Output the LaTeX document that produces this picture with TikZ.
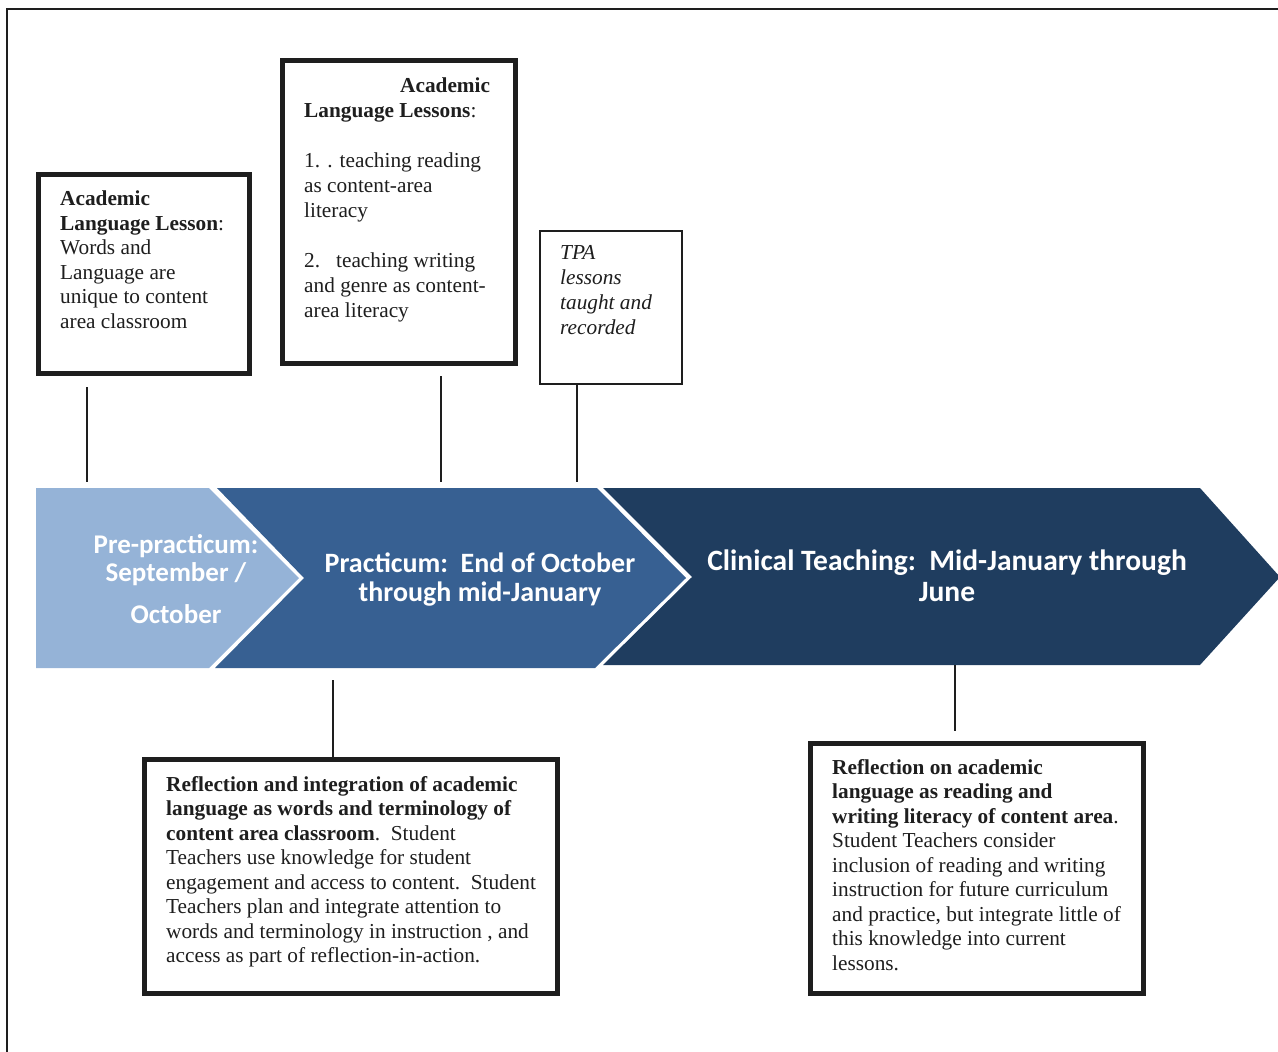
\documentclass[tikz,border=0pt]{standalone}
\usepackage{fontspec}
\setmainfont{Liberation Serif}
\newfontfamily\chevfont{Carlito}
\definecolor{lightblue}{HTML}{95B3D7}
\definecolor{midblue}{HTML}{376092}
\definecolor{darkblue}{HTML}{1F3D5F}
\definecolor{inkgray}{HTML}{1E1E1E}
\begin{document}
\begin{tikzpicture}[x=1pt,y=-1pt,
  bigbox/.style={draw=inkgray, line width=5pt, fill=white, inner sep=0pt},
  thinbox/.style={draw=inkgray, line width=2pt, fill=white, inner sep=0pt},
  boxtext/.style={anchor=base west, inner sep=0pt, align=left, text=inkgray,
    font=\fontsize{21.3}{24.6}\selectfont},
  chevtext/.style={anchor=base, inner sep=0pt, align=center, text=white,
    font=\chevfont\bfseries\fontsize{28}{28.5}\selectfont},
  link/.style={draw=inkgray, line width=2pt}]
\useasboundingbox (0,0) rectangle (1278,1052);
\begin{scope}
\clip (0,0) rectangle (1278,1052);
% outer frame
\draw[line width=2pt, draw=inkgray] (7,1060) -- (7,9) -- (1290,9);
% chevrons
\fill[darkblue] (603,488) -- (1200,488) -- (1280,577) -- (1200,665) -- (603,665) -- (692,577) -- cycle;
\fill[midblue] (217,488) -- (597,488) -- (686,578) -- (595,668) -- (215,668) -- (304,578) -- cycle;
\fill[lightblue] (36,488) -- (209,488) -- (299,578) -- (209,668) -- (36,668) -- cycle;
\end{scope}
% chevron labels (anchor = baseline of last line)
\node[chevtext, font=\chevfont\bfseries\fontsize{27}{28.5}\selectfont] (pre) at (176,623) {Pre-practicum:\\ September /\\[13pt] October};
\node[chevtext] (prac) at (480,601) {Practicum:\ \ End of October\\ through mid-January};
\node[chevtext, font=\chevfont\bfseries\fontsize{29.5}{28.5}\selectfont] (clin) at (947,601.5) {Clinical Teaching:\ \ Mid-January through\\[3pt] June};
% boxes
\node[bigbox, minimum width=211pt, minimum height=199pt] (b1) at (144,274) {};
\node[bigbox, minimum width=233pt, minimum height=303pt] (b2) at (399,212) {};
\node[thinbox, minimum width=142pt, minimum height=153pt] (tpa) at (611,307.5) {};
\node[bigbox, minimum width=413pt, minimum height=234pt] (b4) at (351,876.5) {};
\node[bigbox, minimum width=333pt, minimum height=250pt] (b5) at (977,868.5) {};
% box texts (anchor = baseline of last line)
\node[boxtext] (t1) at (60,328.5) {\textbf{Academic}\\ \textbf{Language Lesson}:\\ Words and\\ Language are\\ unique to content\\ area classroom};
\node[boxtext, font=\fontsize{21.3}{25}\selectfont] (t2) at (304,317) {\hspace*{96pt}\textbf{Academic}\\ \textbf{Language Lessons}:\\[25pt] 1. . teaching reading\\ as content-area\\ literacy\\[25pt] 2.\ \ \ teaching writing\\ and genre as content-\\ area literacy};
\node[boxtext, font=\fontsize{21.3}{24.7}\selectfont\itshape] (t3) at (560,334) {TPA\\ lessons\\ taught and\\ recorded};
\node[boxtext, font=\fontsize{21.3}{24.5}\selectfont] (t4) at (166,962.5) {\textbf{Reflection and integration of academic}\\
\textbf{language as words and terminology of}\\
\textbf{content area classroom}.\ \ Student\\
Teachers use knowledge for student\\
engagement and access to content.\ \ Student\\
Teachers plan and integrate attention to\\
words and terminology in instruction , and\\
access as part of reflection-in-action.};
\node[boxtext, font=\fontsize{21.3}{24.5}\selectfont] (t5) at (832,970) {\textbf{Reflection on academic}\\
\textbf{language as reading and}\\
\textbf{writing literacy of content area}.\\
Student Teachers consider\\
inclusion of reading and writing\\
instruction for future curriculum\\
and practice, but integrate little of\\
this knowledge into current\\
lessons.};
% connectors
\coordinate (p1) at (87,482);
\coordinate (p2) at (441,482);
\coordinate (p3) at (577,482);
\coordinate (p4) at (333,680);
\coordinate (p5) at (955,665);
\draw[link] ([yshift=-11pt]b1.south -| p1) -- (p1);
\draw[link] ([yshift=-10pt]b2.south -| p2) -- (p2);
\draw[link] (tpa.south -| p3) -- (p3);
\draw[link] (p4) -- ([yshift=-2pt]b4.north -| p4);
\draw[link] (p5) -- ([yshift=10pt]b5.north -| p5);
\end{tikzpicture}
\end{document}
